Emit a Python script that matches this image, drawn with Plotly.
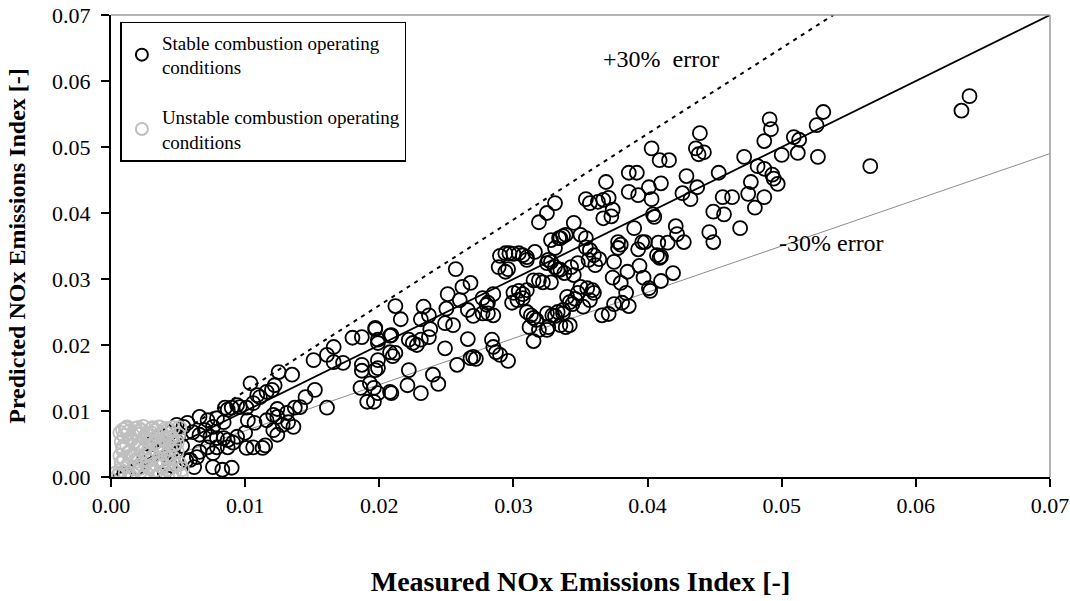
import plotly.graph_objects as go

# Stable combustion operating conditions (measured, predicted)
stable_x = [
    0.0640, 0.0634, 0.0566, 0.0531, 0.0526, 0.0491, 0.0492, 0.0487, 0.0509, 0.0513,
    0.0512, 0.0527, 0.0500, 0.0472, 0.0482, 0.0487, 0.0493, 0.0494, 0.0497, 0.0477,
    0.0475, 0.0487, 0.0480, 0.0469, 0.0456, 0.0463, 0.0449, 0.0457, 0.0446, 0.0449,
    0.0439, 0.0436, 0.0442, 0.0438, 0.0403, 0.0409, 0.0416, 0.0386, 0.0392, 0.0429,
    0.0453, 0.0369, 0.0386, 0.0393, 0.0401, 0.0403, 0.0410, 0.0426, 0.0432, 0.0437,
    0.0354, 0.0357, 0.0363, 0.0367, 0.0371, 0.0374, 0.0367, 0.0373, 0.0404, 0.0405,
    0.0345, 0.0390, 0.0421, 0.0422, 0.0427, 0.0337, 0.0350, 0.0354, 0.0354, 0.0378,
    0.0380, 0.0378, 0.0396, 0.0398, 0.0393, 0.0408, 0.0415, 0.0407, 0.0409, 0.0410,
    0.0335, 0.0335, 0.0338, 0.0348, 0.0356, 0.0364, 0.0375, 0.0385, 0.0394, 0.0419,
    0.0374, 0.0380, 0.0397, 0.0410, 0.0401, 0.0402, 0.0384, 0.0386, 0.0381, 0.0375,
    0.0366, 0.0371, 0.0340, 0.0346, 0.0348, 0.0350, 0.0355, 0.0359, 0.0360, 0.0357,
    0.0352, 0.0344, 0.0337, 0.0342,
    0.0331, 0.0325, 0.0319, 0.0328, 0.0334, 0.0331, 0.0339, 0.0316, 0.0310, 0.0328,
    0.0331, 0.0325, 0.0326, 0.0333, 0.0343, 0.0345, 0.0360, 0.0361, 0.0357, 0.0290,
    0.0294, 0.0297, 0.0300, 0.0304, 0.0307, 0.0310, 0.0289, 0.0294, 0.0296, 0.0315,
    0.0319, 0.0322, 0.0328, 0.0300, 0.0304, 0.0307, 0.0307, 0.0303, 0.0299, 0.0310,
    0.0313, 0.0315, 0.0317, 0.0312, 0.0319, 0.0326, 0.0331, 0.0337, 0.0342, 0.0339,
    0.0315, 0.0257, 0.0212, 0.0216, 0.0251, 0.0250, 0.0262, 0.0268, 0.0260, 0.0266,
    0.0277, 0.0285, 0.0270, 0.0277, 0.0280, 0.0281, 0.0285, 0.0233, 0.0237, 0.0231,
    0.0249, 0.0255, 0.0238, 0.0237, 0.0266, 0.0284, 0.0285, 0.0287, 0.0268, 0.0270,
    0.0272, 0.0258, 0.0296, 0.0249, 0.0222, 0.0240, 0.0244, 0.0221, 0.0208, 0.0231,
    0.0197, 0.0193, 0.0199, 0.0225, 0.0228, 0.0231, 0.0222, 0.0208, 0.0197, 0.0199,
    0.0208, 0.0212, 0.0210, 0.0199, 0.0199, 0.0281, 0.0310, 0.0325, 0.0329, 0.0333,
    0.0325, 0.0335, 0.0290,
    0.0197, 0.0187, 0.0180, 0.0199, 0.0209, 0.0166, 0.0161, 0.0166, 0.0173, 0.0151,
    0.0135, 0.0125, 0.0187, 0.0186, 0.0196, 0.0191, 0.0196, 0.0209, 0.0152, 0.0145,
    0.0161, 0.0141, 0.0137, 0.0187,
    0.0104, 0.0109, 0.0116, 0.0111, 0.0122, 0.0120, 0.0124, 0.0131, 0.0136, 0.0096,
    0.0090, 0.0085, 0.0102, 0.0107, 0.0100, 0.0121, 0.0115, 0.0124, 0.0128, 0.0132,
    0.0124, 0.0066, 0.0072, 0.0076, 0.0070, 0.0074, 0.0079, 0.0094, 0.0091, 0.0106,
    0.0094, 0.0101, 0.0106, 0.0116, 0.0121, 0.0087, 0.0084, 0.0079, 0.0057, 0.0054,
    0.0049, 0.0061, 0.0066, 0.0084, 0.0087, 0.0087, 0.0079, 0.0076, 0.0066, 0.0072,
    0.0064, 0.0059, 0.0101, 0.0113, 0.0076, 0.0083, 0.0090, 0.0056, 0.0062,
    0.0038, 0.0042, 0.0039, 0.0044, 0.0040, 0.0046, 0.0048, 0.0044, 0.0030, 0.0035,
    0.0025, 0.0020, 0.0010, 0.0050, 0.0053,
]
stable_y = [
    0.0577, 0.0555, 0.0471, 0.0553, 0.0533, 0.0542, 0.0527, 0.0509, 0.0515, 0.0511,
    0.0491, 0.0485, 0.0488, 0.0485, 0.0471, 0.0467, 0.0458, 0.0452, 0.0444, 0.0447,
    0.0429, 0.0424, 0.0408, 0.0377, 0.0424, 0.0424, 0.0402, 0.0398, 0.0371, 0.0356,
    0.0521, 0.0498, 0.0492, 0.0489, 0.0498, 0.0480, 0.0480, 0.0461, 0.0461, 0.0456,
    0.0461, 0.0447, 0.0432, 0.0427, 0.0439, 0.0421, 0.0445, 0.0430, 0.0421, 0.0439,
    0.0421, 0.0415, 0.0417, 0.0420, 0.0423, 0.0405, 0.0392, 0.0395, 0.0398, 0.0394,
    0.0385, 0.0377, 0.0380, 0.0368, 0.0356, 0.0365, 0.0367, 0.0362, 0.0348, 0.0356,
    0.0352, 0.0347, 0.0356, 0.0356, 0.0345, 0.0355, 0.0355, 0.0336, 0.0332, 0.0334,
    0.0362, 0.0314, 0.0309, 0.0324, 0.0329, 0.0330, 0.0326, 0.0311, 0.0320, 0.0309,
    0.0302, 0.0294, 0.0302, 0.0297, 0.0286, 0.0282, 0.0279, 0.0259, 0.0264, 0.0262,
    0.0245, 0.0247, 0.0273, 0.0270, 0.0279, 0.0288, 0.0286, 0.0283, 0.0279, 0.0268,
    0.0258, 0.0262, 0.0248, 0.0230,
    0.0415, 0.0400, 0.0386, 0.0359, 0.0362, 0.0347, 0.0367, 0.0341, 0.0333, 0.0326,
    0.0318, 0.0324, 0.0329, 0.0314, 0.0318, 0.0306, 0.0336, 0.0321, 0.0344, 0.0335,
    0.0339, 0.0339, 0.0338, 0.0339, 0.0336, 0.0329, 0.0318, 0.0311, 0.0315, 0.0298,
    0.0298, 0.0295, 0.0295, 0.0279, 0.0282, 0.0277, 0.0271, 0.0268, 0.0264, 0.0250,
    0.0245, 0.0241, 0.0238, 0.0227, 0.0223, 0.0227, 0.0244, 0.0253, 0.0265, 0.0227,
    0.0206, 0.0315, 0.0259, 0.0239, 0.0277, 0.0255, 0.0288, 0.0294, 0.0268, 0.0253,
    0.0271, 0.0277, 0.0244, 0.0248, 0.0261, 0.0248, 0.0245, 0.0258, 0.0245, 0.0239,
    0.0233, 0.0230, 0.0224, 0.0212, 0.0209, 0.0208, 0.0197, 0.0189, 0.0180, 0.0182,
    0.0179, 0.0170, 0.0176, 0.0195, 0.0162, 0.0155, 0.0141, 0.0139, 0.0129, 0.0127,
    0.0162, 0.0142, 0.0127, 0.0203, 0.0200, 0.0208, 0.0208, 0.0214, 0.0224, 0.0208,
    0.0189, 0.0188, 0.0183, 0.0177, 0.0165, 0.0264, 0.0283, 0.0248, 0.0245, 0.0250,
    0.0223, 0.0230, 0.0185,
    0.0226, 0.0212, 0.0211, 0.0203, 0.0215, 0.0197, 0.0185, 0.0174, 0.0173, 0.0177,
    0.0155, 0.0159, 0.0170, 0.0135, 0.0135, 0.0114, 0.0114, 0.0127, 0.0132, 0.0121,
    0.0105, 0.0106, 0.0105, 0.0161,
    0.0142, 0.0124, 0.0129, 0.0121, 0.0139, 0.0132, 0.0103, 0.0097, 0.0076, 0.0106,
    0.0105, 0.0105, 0.0086, 0.0082, 0.0067, 0.0071, 0.0048, 0.0064, 0.0079, 0.0083,
    0.0091, 0.0091, 0.0086, 0.0076, 0.0071, 0.0061, 0.0059, 0.0061, 0.0052, 0.0045,
    0.0109, 0.0105, 0.0112, 0.0086, 0.0094, 0.0102, 0.0083, 0.0089, 0.0082, 0.0076,
    0.0079, 0.0068, 0.0064, 0.0059, 0.0056, 0.0045, 0.0045, 0.0036, 0.0038, 0.0045,
    0.0030, 0.0026, 0.0044, 0.0044, 0.0015, 0.0011, 0.0014, 0.0025, 0.0015,
    0.0041, 0.0033, 0.0023, 0.0018, 0.0008, 0.0041, 0.0056, 0.0067, 0.0050, 0.0060,
    0.0030, 0.0015, 0.0005, 0.0062, 0.0047,
]

# Unstable combustion operating conditions (measured, predicted)
unstable_x = [
    0.0006, 0.0007, 0.0008, 0.0007, 0.0009, 0.0008, 0.0010, 0.0009, 0.0011, 0.0012,
    0.0010, 0.0013, 0.0012, 0.0014, 0.0013, 0.0005, 0.0004, 0.0016, 0.0017, 0.0018,
    0.0016, 0.0019, 0.0017, 0.0020, 0.0018, 0.0022, 0.0023, 0.0021, 0.0024, 0.0022,
    0.0025, 0.0023, 0.0026, 0.0028, 0.0027, 0.0029, 0.0026, 0.0029, 0.0027, 0.0030,
    0.0032, 0.0033, 0.0031, 0.0034, 0.0032, 0.0035, 0.0033, 0.0037, 0.0038, 0.0036,
    0.0039, 0.0037, 0.0040, 0.0038, 0.0042, 0.0043, 0.0041, 0.0044, 0.0042, 0.0045,
    0.0043, 0.0047, 0.0048, 0.0046, 0.0049, 0.0047, 0.0050, 0.0052, 0.0051, 0.0015,
    0.0025, 0.0035, 0.0045, 0.0011, 0.0020, 0.0031, 0.0041, 0.0053,
    0.0007, 0.0012, 0.0019, 0.0024, 0.0030, 0.0036, 0.0040, 0.0046, 0.0009, 0.0015,
    0.0021, 0.0028, 0.0034, 0.0039, 0.0044, 0.0049, 0.0008, 0.0014, 0.0022, 0.0027,
    0.0033, 0.0038, 0.0043, 0.0051,
]
unstable_y = [
    0.0003, 0.0010, 0.0021, 0.0032, 0.0041, 0.0053, 0.0062, 0.0071, 0.0006, 0.0016,
    0.0027, 0.0037, 0.0048, 0.0058, 0.0068, 0.0001, 0.0006, 0.0004, 0.0013, 0.0024,
    0.0033, 0.0044, 0.0054, 0.0064, 0.0073, 0.0009, 0.0019, 0.0029, 0.0039, 0.0050,
    0.0060, 0.0070, 0.0005, 0.0015, 0.0025, 0.0034, 0.0045, 0.0055, 0.0066, 0.0072,
    0.0010, 0.0020, 0.0030, 0.0041, 0.0051, 0.0062, 0.0070, 0.0006, 0.0016, 0.0026,
    0.0036, 0.0046, 0.0056, 0.0065, 0.0012, 0.0022, 0.0032, 0.0043, 0.0052, 0.0060,
    0.0071, 0.0008, 0.0018, 0.0029, 0.0039, 0.0050, 0.0064, 0.0003, 0.0074, 0.0000,
    0.0001, 0.0002, 0.0003, 0.0073, 0.0074, 0.0074, 0.0073, 0.0012,
    0.0067, 0.0075, 0.0068, 0.0076, 0.0066, 0.0075, 0.0068, 0.0074, 0.0045, 0.0057,
    0.0049, 0.0061, 0.0054, 0.0047, 0.0058, 0.0052, 0.0022, 0.0031, 0.0014, 0.0037,
    0.0007, 0.0021, 0.0028, 0.0020,
]

# Reference lines: parity, +30 % and -30 %
ref_x = [0.0, 0.07]
plus_ratio = 1.3
minus_ratio = 0.7

x_ticks = [0.00, 0.01, 0.02, 0.03, 0.04, 0.05, 0.06, 0.07]
tick_text = ["0.00", "0.01", "0.02", "0.03", "0.04", "0.05", "0.06", "0.07"]

FONT = "Liberation Serif"

fig = go.Figure()

fig.add_trace(go.Scatter(x=ref_x, y=ref_x, mode="lines",
                         line=dict(color="black", width=1.8), showlegend=False, hoverinfo="skip"))
fig.add_trace(go.Scatter(x=[0.0, 0.07 / plus_ratio], y=[0.0, 0.07], mode="lines",
                         line=dict(color="black", width=2, dash="4px,5px"), showlegend=False, hoverinfo="skip"))
fig.add_trace(go.Scatter(x=ref_x, y=[v * minus_ratio for v in ref_x], mode="lines",
                         line=dict(color="#8c8c8c", width=1), showlegend=False, hoverinfo="skip"))

fig.add_trace(go.Scatter(
    x=stable_x, y=stable_y, mode="markers",
    name="Stable combustion operating<br>conditions", legendgroup="a",
    marker=dict(symbol="circle-open", size=14, color="black", line=dict(width=1.8, color="black")),
))
fig.add_trace(go.Scatter(
    x=unstable_x, y=unstable_y, mode="markers",
    name="Unstable combustion operating<br>conditions", legendgroup="b",
    marker=dict(symbol="circle-open", size=14, color="#bfbfbf", line=dict(width=1.8, color="#bfbfbf")),
))

fig.add_annotation(x=0.041, y=0.0634, text="+30%  error", showarrow=False,
                   font=dict(family=FONT, size=24, color="black"))
fig.add_annotation(x=0.0537, y=0.0355, text="-30% error", showarrow=False,
                   font=dict(family=FONT, size=24, color="black"))

# frame (top and right borders)
fig.add_shape(type="line", xref="paper", yref="paper", x0=0, y0=1, x1=1, y1=1,
              line=dict(color="#9a9a9a", width=1.5))
fig.add_shape(type="line", xref="paper", yref="paper", x0=1, y0=0, x1=1, y1=1,
              line=dict(color="#9a9a9a", width=1.5))

fig.update_layout(
    width=1070, height=601,
    margin=dict(l=111, r=20, t=15, b=124),
    paper_bgcolor="white", plot_bgcolor="white",
    font=dict(family=FONT, size=20, color="black"),
    showlegend=True,
    legend=dict(x=0.01, y=0.985, xanchor="left", yanchor="top",
                bgcolor="white", bordercolor="black", borderwidth=1.5,
                font=dict(family=FONT, size=19, color="black"),
                itemsizing="constant", traceorder="grouped", tracegroupgap=22),
)
fig.update_xaxes(range=[0, 0.07], tickvals=x_ticks, ticktext=tick_text, automargin=False,
                 ticks="outside", ticklen=8, tickwidth=1.5, tickcolor="black",
                 showline=True, linecolor="black", linewidth=2,
                 showgrid=False, zeroline=False,
                 tickfont=dict(family=FONT, size=22),
                 title=dict(text="<b>Measured NOx Emissions Index [-]</b>",
                            font=dict(family=FONT, size=28), standoff=54))
fig.update_yaxes(range=[0, 0.07], tickvals=x_ticks, ticktext=tick_text, automargin=False,
                 ticks="outside", ticklen=8, tickwidth=1.5, tickcolor="black",
                 ticklabelstandoff=6,
                 showline=True, linecolor="black", linewidth=2,
                 showgrid=False, zeroline=False,
                 tickfont=dict(family=FONT, size=22),
                 title=dict(text="<b>Predicted NOx Emissions Index [-]</b>",
                            font=dict(family=FONT, size=24), standoff=20))

fig.write_html("out.html", config={"displayModeBar": False},
               post_script="document.body.style.margin='0px';document.body.style.overflow='hidden';")
